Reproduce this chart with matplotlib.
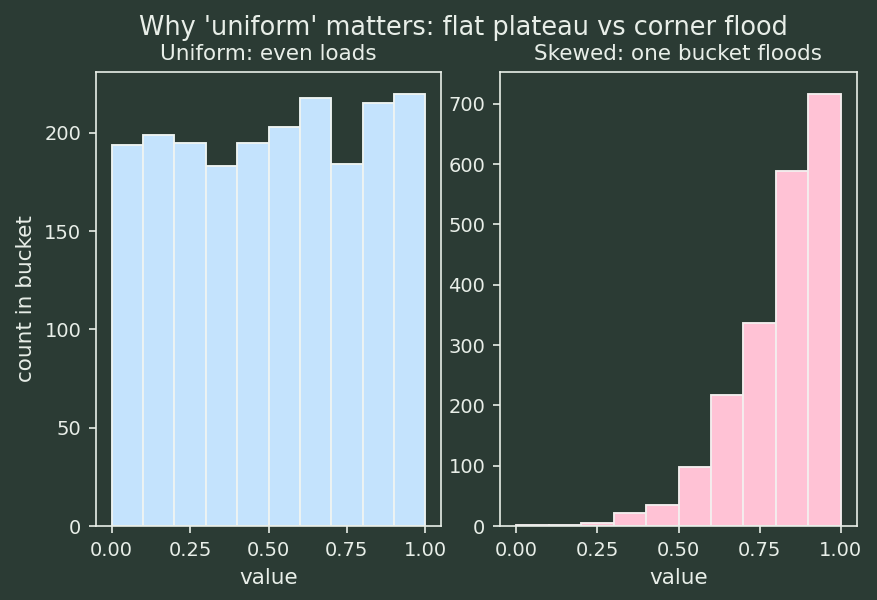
import matplotlib
matplotlib.use("Agg")
import matplotlib.pyplot as plt
import numpy as np

bin_edges = [0.0, 0.1, 0.2, 0.3, 0.4, 0.5, 0.6, 0.7, 0.8, 0.9, 1.0]
uniform_counts = [194, 199, 195, 183, 195, 203, 218, 184, 215, 220]
skewed_counts = [1, 1, 5, 22, 35, 98, 218, 336, 588, 717]

titles = ["Uniform: even loads", "Skewed: one bucket floods"]
suptitle = "Why 'uniform' matters: flat plateau vs corner flood"

bg = "#2b3b34"
fg = "#e8eee8"
plt.rcParams.update({
    "text.color": fg, "axes.labelcolor": fg, "xtick.color": fg, "ytick.color": fg,
    "axes.edgecolor": fg, "figure.facecolor": bg, "axes.facecolor": bg,
})

fig = plt.figure(figsize=(877/150, 600/150), dpi=150)
ax1 = fig.add_axes([96/877, 1-526/600, (441-96)/877, (526-72)/600])
ax2 = fig.add_axes([500/877, 1-526/600, (857-500)/877, (526-72)/600])

ax1.hist(bin_edges[:-1], bins=bin_edges, weights=uniform_counts, color="#c4e3fd", edgecolor="#eef4f2", linewidth=0.9)
ax2.hist(bin_edges[:-1], bins=bin_edges, weights=skewed_counts, color="#ffc2d5", edgecolor="#f4eeee", linewidth=0.9)

for ax, t in zip([ax1, ax2], titles):
    ax.set_title(t, fontsize=10.3)
    ax.set_xlabel("value", fontsize=10.3)
    ax.set_xticks([0, 0.25, 0.5, 0.75, 1.0])
    ax.tick_params(labelsize=9.35)
ax1.set_ylabel("count in bucket", fontsize=10.3)

fig.suptitle(suptitle, fontsize=12.3, x=0.528, y=0.975)
fig.savefig("out.png", dpi=150, facecolor=bg)
